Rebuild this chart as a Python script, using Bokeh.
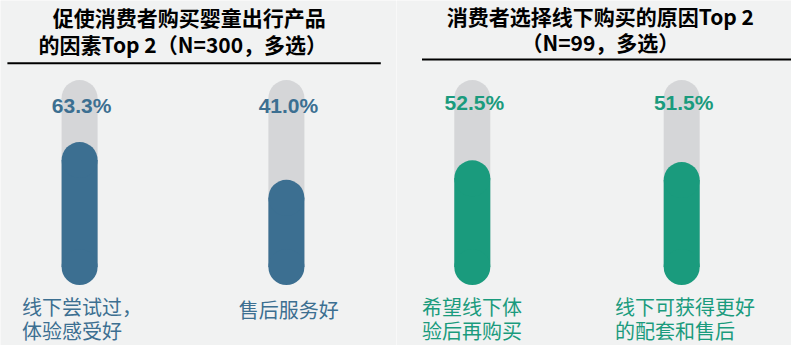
from bokeh.plotting import figure
from bokeh.models import Range1d, Label
from bokeh.layouts import row
from bokeh.embed import file_html
from bokeh.resources import INLINE
from bokeh.core.properties import value

# ---------------- data ----------------
left_title = ["促使消费者购买婴童出行产品", "的因素Top 2（N=300，多选）"]
left_categories = ["线下尝试过，\n体验感受好", "售后服务好"]
left_values = [63.3, 41.0]

right_title = ["消费者选择线下购买的原因Top 2", "（N=99，多选）"]
right_categories = ["希望线下体\n验后再购买", "线下可获得更好\n的配套和售后"]
right_values = [52.5, 51.5]

track_max = 100

# ---------------- styles ----------------
BG = "#F1F2F2"
TRACK = "#D5D6D8"
BLUE = "#3C6F91"
GREEN = "#1A9B7D"
H = 345
D = 36  # bar thickness in px


def make_panel(title_lines, title_pos, underline, cats, vals, color, W,
               x_start, x_end, pct_y, label_offsets, label_y1, label_y2):
    fig = figure(width=W, height=H, x_range=Range1d(x_start, x_end),
                 y_range=Range1d(-46.4, 157.7), output_backend="svg",
                 toolbar_location=None, min_border=0,
                 x_axis_location=None, y_axis_location=None,
                 background_fill_color=BG, border_fill_color=BG,
                 outline_line_color=None)
    fig.grid.visible = False
    fig.extra_x_ranges = {"px": Range1d(0, W)}
    fig.extra_y_ranges = {"px": Range1d(H, 0)}

    n = len(vals)
    xs = list(range(n))
    bw = D / (W / (x_end - x_start))

    # background track
    fig.vbar(x=xs, bottom=0, top=[track_max] * n, width=bw,
             fill_color=TRACK, line_color=None)
    fig.scatter(x=xs, y=[track_max] * n, size=D, fill_color=TRACK, line_color=None)
    # value bar
    fig.vbar(x=xs, bottom=0, top=vals, width=bw, fill_color=color, line_color=None)
    fig.scatter(x=xs, y=vals, size=D, fill_color=color, line_color=None)
    fig.scatter(x=xs, y=[0] * n, size=D, fill_color=color, line_color=None)

    # percent labels
    fig.text(x=xs, y=[pct_y] * n, y_range_name="px",
             text=[f"{v:.1f}%" for v in vals], x_offset=2,
             text_align="center", text_baseline="middle",
             text_font=value("Liberation Sans"), text_font_style="bold",
             text_font_size="21px", text_color=color)

    # category labels (one text per line)
    parts = [c.split("\n") for c in cats]
    first = [p[0] for p in parts]
    second = [p[1] if len(p) > 1 else "" for p in parts]
    fig.text(x=xs, y=label_y1, y_range_name="px", text=first,
             x_offset=label_offsets, text_align="left", text_baseline="middle",
             text_font=value("Noto Sans CJK SC"), text_font_size="20px",
             text_color=color)
    fig.text(x=xs, y=[label_y2] * n, y_range_name="px", text=second,
             x_offset=label_offsets, text_align="left", text_baseline="middle",
             text_font=value("Noto Sans CJK SC"), text_font_size="20px",
             text_color=color)

    # title
    for line, (tx, ty) in zip(title_lines, title_pos):
        fig.add_layout(Label(x=tx, y=ty, x_range_name="px", y_range_name="px",
                             text=line, text_align="center", text_baseline="middle",
                             text_font="Noto Sans CJK SC", text_font_style="bold",
                             text_font_size="21px", text_color="black"))
    ux0, ux1, uy = underline
    fig.segment(x0=[ux0], y0=[uy], x1=[ux1], y1=[uy], x_range_name="px",
                y_range_name="px", line_color="black", line_width=2)
    return fig


left = make_panel(left_title, [(188.7, 16.2), (182.3, 43)], (6.9, 380.3, 62.8),
                  left_categories, left_values, BLUE, 396,
                  -0.3825, 1.5324, 105, [-57.5, -47.7], [305.8, 308.7], 329.7)
right = make_panel(right_title, [(203.9, 15.3), (203.9, 41.1)], (25.5, 395, 59),
                   right_categories, right_values, GREEN, 395,
                   -0.362, 1.5244, 102.3, [-50.3, -66.6], [305.8, 305.8], 329.7)

layout = row(left, right)
open("out.html", "w").write(file_html(layout, INLINE))
